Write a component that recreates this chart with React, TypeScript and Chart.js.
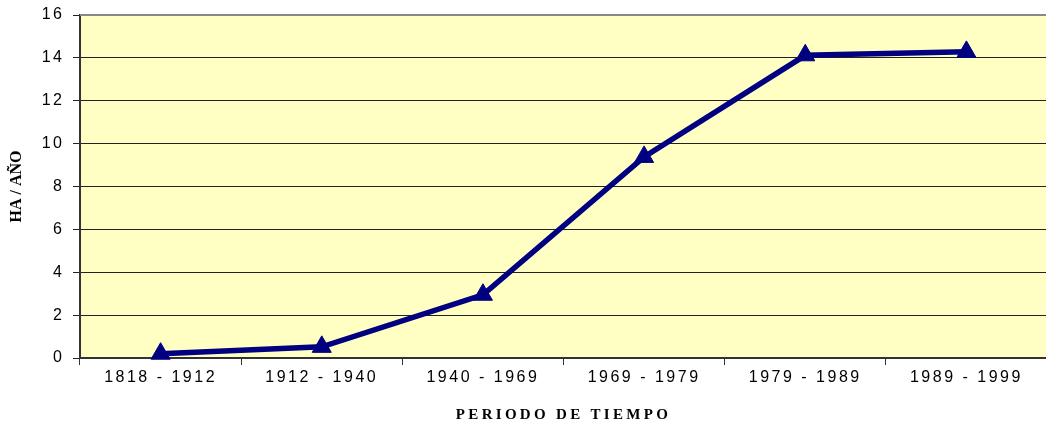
import React, { useEffect, useRef } from "react";
import { Chart, registerables } from "chart.js";

Chart.register(...registerables);

const categories = ["1818 - 1912", "1912 - 1940", "1940 - 1969", "1969 - 1979", "1979 - 1989", "1989 - 1999"];
const haPerYear = [0.2, 0.52, 2.95, 9.38, 14.12, 14.28];
const yTicks = [0, 2, 4, 6, 8, 10, 12, 14, 16];

function patchTitle(scale: any, spacing: string) {
  if (!scale || scale.__patched) return;
  const orig = scale.drawTitle.bind(scale);
  scale.drawTitle = function (...args: any[]) {
    const ctx = scale.ctx;
    const prev = ctx.letterSpacing;
    ctx.letterSpacing = spacing;
    orig(...args);
    ctx.letterSpacing = prev;
  };
  scale.__patched = true;
}

const plotBg = {
  id: "plotBg",
  beforeDraw(chart: any) {
    const { ctx, chartArea } = chart;
    ctx.save();
    ctx.fillStyle = "#FFFFC4";
    ctx.fillRect(chartArea.left, chartArea.top, chartArea.right - chartArea.left, chartArea.bottom - chartArea.top);
    ctx.restore();
    (ctx as any).letterSpacing = "2.5px";
    patchTitle(chart.scales.x, "3.3px");
    patchTitle(chart.scales.y, "0px");
  },
  afterDatasetsDraw(chart: any) {
    const { ctx, chartArea } = chart;
    ctx.save();
    ctx.strokeStyle = "#888888";
    ctx.lineWidth = 2;
    ctx.beginPath();
    ctx.moveTo(chartArea.left, chartArea.top);
    ctx.lineTo(chartArea.right, chartArea.top);
    ctx.stroke();
    ctx.restore();
  },
};

export default function App() {
  const ref = useRef<HTMLCanvasElement>(null);
  useEffect(() => {
    const chart = new Chart(ref.current!, {
      type: "line",
      data: {
        labels: categories,
        datasets: [
          {
            data: haPerYear,
            borderColor: "#000080",
            backgroundColor: "#000080",
            borderWidth: 5.5,
            tension: 0,
            pointStyle: "triangle",
            pointRadius: 11,
            pointBackgroundColor: "#000080",
            pointBorderColor: "#000080",
            pointBorderWidth: 1,
            clip: false as any,
          },
        ],
      },
      options: {
        animation: false,
        responsive: true,
        maintainAspectRatio: false,
        layout: { padding: { top: 15, right: 0, left: 0, bottom: 0 } },
        plugins: { legend: { display: false }, tooltip: { enabled: false } },
        scales: {
          x: {
            offset: true,
            grid: { display: true, drawOnChartArea: false, drawTicks: true, tickLength: 7, color: "#333", offset: true },
            border: { display: true, color: "#333", width: 2 },
            ticks: { color: "#000", padding: 3, font: { family: "Liberation Sans", size: 16 }, maxRotation: 0 },
            title: {
              display: true,
              text: "PERIODO DE TIEMPO",
              color: "#000",
              font: { family: "Liberation Serif", size: 15, weight: "bold" },
              padding: { top: 4, bottom: 1 },
            },
            afterFit(scale: any) {
              scale.height = 67;
              scale.paddingLeft = 0;
              scale.paddingRight = 0;
            },
          },
          y: {
            min: 0,
            max: 16,
            afterBuildTicks(scale: any) {
              scale.ticks = yTicks.map((v) => ({ value: v }));
            },
            grid: { color: "#222", lineWidth: 1, tickLength: 7, drawTicks: true },
            border: { display: true, color: "#333", width: 2 },
            ticks: { color: "#000", padding: 8.5, font: { family: "Liberation Sans", size: 16 } },
            title: {
              display: true,
              text: "HA / AÑO",
              color: "#000",
              font: { family: "Liberation Serif", size: 16, weight: "bold" },
              padding: { top: 7, bottom: 0 },
            },
            afterFit(scale: any) {
              scale.width = 80;
              scale.paddingTop = 0;
              scale.paddingBottom = 0;
            },
          },
        },
      },
      plugins: [plotBg],
    });
    return () => chart.destroy();
  }, []);
  return (
    <div style={{ position: "fixed", left: 0, top: 0, width: 1046, height: 425, overflow: "hidden", background: "#fff" }}>
      <div style={{ position: "absolute", left: 0, top: 0, width: 1059, height: 425 }}>
        <canvas ref={ref} />
      </div>
    </div>
  );
}
